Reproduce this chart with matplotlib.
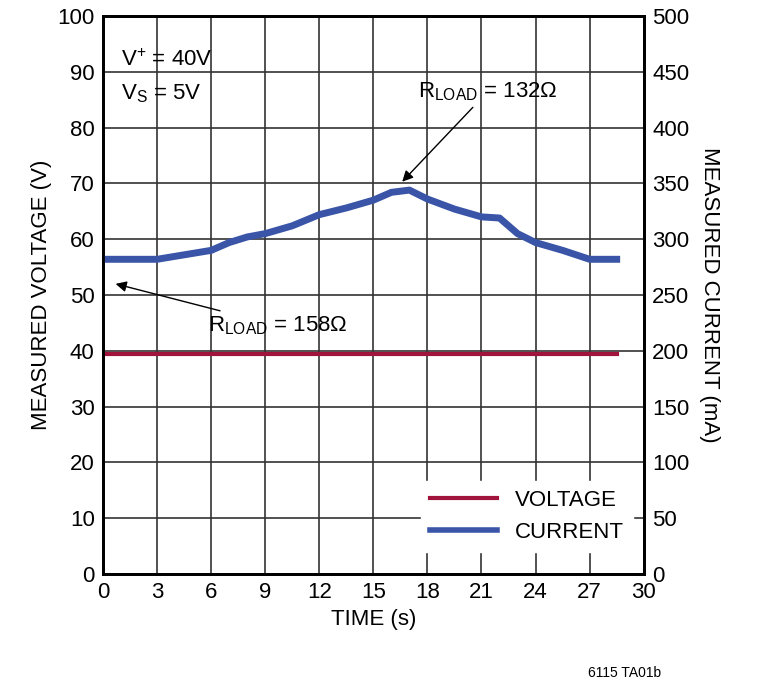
import matplotlib
matplotlib.use("Agg")
import matplotlib.pyplot as plt

plt.rcParams['font.family'] = ['Liberation Sans', 'DejaVu Sans']

time_s = [0, 1.5, 3, 4.5, 6, 7, 8, 9, 10.5, 12, 13.5, 15, 16, 17, 18, 19.5, 21, 22, 23, 24, 25.5, 27, 28.5]
current_ma = [282, 282, 282, 286, 290, 297, 302, 305, 312, 322, 328, 335, 342, 344, 336, 327, 320, 319, 305, 297, 290, 282, 282]
voltage_v = [39.5] * len(time_s)

fig = plt.figure(figsize=(7.6, 6.84), dpi=100)
ax = fig.add_axes([0.1355, 0.1608, 0.7115, 0.8158])
ax2 = ax.twinx()

ax.plot(time_s, voltage_v, color='#a0143c', lw=3, label='VOLTAGE')
ax2.plot(time_s, current_ma, color='#3a55a8', lw=5)
ax.plot([], [], color='#3a55a8', lw=4, label='CURRENT')

ax.set_xlim(0, 30)
ax.set_ylim(0, 100)
ax2.set_ylim(0, 500)
ax.set_xticks(range(0, 31, 3))
ax.set_yticks(range(0, 101, 10))
ax2.set_yticks(range(0, 501, 50))
ax.grid(True, color='#333333', lw=1.2)
for a in (ax, ax2):
    a.tick_params(labelsize=16, length=0, pad=6)
    for s in a.spines.values():
        s.set_linewidth(2)

ax.set_xlabel('TIME (s)', fontsize=16)
ax.set_ylabel('MEASURED VOLTAGE (V)', fontsize=16)
ax2.set_ylabel('MEASURED CURRENT (mA)', fontsize=16, rotation=270, labelpad=22)

ax.text(1.0, 91, '$\\mathregular{V^{+}}$ = 40V', fontsize=16)
ax.text(1.0, 85, '$\\mathregular{V_{S}}$ = 5V', fontsize=16)
ax.annotate('$\\mathregular{R_{LOAD}}$ = 132Ω', xy=(16.6, 70.3), xytext=(17.5, 85.5), fontsize=16,
            arrowprops=dict(arrowstyle='-|>', color='black', lw=1, shrinkA=2, shrinkB=0), ha='left')
ax.annotate('$\\mathregular{R_{LOAD}}$ = 158Ω', xy=(0.7, 52), xytext=(5.8, 43.5), fontsize=16,
            arrowprops=dict(arrowstyle='-|>', color='black', lw=1, shrinkA=2, shrinkB=0), ha='left')

leg = ax.legend(loc='lower right', bbox_to_anchor=(1.0, 0.02), fontsize=16, frameon=True,
                facecolor='white', edgecolor='white', framealpha=1, handlelength=3)
fig.text(0.87, 0.01, '6115 TA01b', fontsize=10, ha='right')

fig.savefig('out.png', dpi=100)
